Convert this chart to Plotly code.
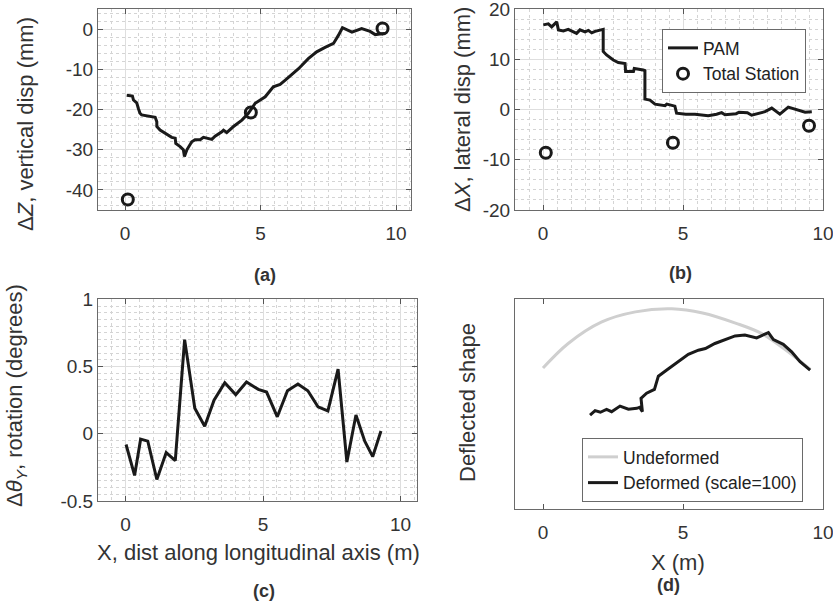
import plotly.graph_objects as go

# ---------------- data ----------------
# (a) vertical displacement, PAM
x_a = [0.06, 0.27, 0.31, 0.43, 0.49, 0.55, 0.61, 0.86, 1.11, 1.17, 1.17, 1.29, 1.48, 1.72, 1.85, 1.87,
       2.03, 2.15, 2.19, 2.28, 2.46, 2.58, 2.77, 2.89, 3.20, 3.32, 3.57, 3.63, 3.75, 4.00, 4.31, 4.55,
       4.80, 5.17, 5.47, 5.72, 5.90, 6.40, 6.76, 7.07, 7.38, 7.69, 7.87, 8.02, 8.37, 8.73, 9.04, 9.23, 9.59]
z_a = [-16.4, -16.6, -17.6, -18.3, -19.7, -20.9, -21.3, -21.6, -21.9, -23.0, -24.2, -25.1, -25.9, -26.9,
       -27.1, -28.4, -29.2, -30.0, -31.7, -30.0, -28.0, -27.5, -27.5, -26.9, -27.4, -26.6, -25.5, -25.1,
       -25.7, -24.2, -22.6, -20.9, -18.4, -16.8, -14.3, -13.7, -12.7, -9.8, -7.3, -5.6, -4.5, -3.5, -1.5,
       0.4, -0.7, 0.2, -0.5, -1.3, -1.0]

# Total station
x_ts = [0.10, 4.64, 9.50]
z_ts = [-42.4, -20.7, 0.2]
dx_ts = [-8.6, -6.6, -3.2]

# (b) lateral displacement, PAM
x_b = [0.01, 0.19, 0.31, 0.40, 0.49, 0.55, 0.73, 0.90, 1.05, 1.20, 1.32, 1.50, 1.62, 1.74, 1.86, 2.10,
       2.15, 2.15, 2.27, 2.51, 2.69, 2.93, 2.95, 3.23, 3.26, 3.58, 3.64, 3.64, 3.82, 4.00, 4.36, 4.42,
       4.71, 4.77, 5.10, 5.43, 5.90, 6.20, 6.38, 6.50, 6.90, 7.00, 7.30, 7.45, 7.93, 8.17, 8.46, 8.76,
       9.05, 9.36, 9.60]
dx_b = [16.9, 17.1, 16.5, 17.1, 17.5, 15.9, 15.7, 16.0, 15.6, 15.2, 15.9, 15.5, 15.8, 15.3, 15.6, 16.0,
        16.0, 11.6, 10.9, 9.9, 9.4, 9.2, 7.6, 7.6, 8.2, 7.9, 7.8, 2.1, 1.9, 1.1, 0.8, 1.1,
        0.7, -0.7, -0.9, -0.9, -1.2, -0.9, -0.6, -1.0, -0.8, -0.5, -0.6, -1.1, -0.4, 0.3, -0.9, 0.5,
        0.0, -0.5, -0.4]

# (c) rotation
x_c = [0.02, 0.33, 0.55, 0.81, 1.14, 1.48, 1.81, 2.15, 2.52, 2.88, 3.22, 3.61, 4.01, 4.40,
       4.83, 5.13, 5.52, 5.89, 6.27, 6.63, 7.00, 7.36, 7.73, 8.05, 8.38, 8.70, 8.99, 9.29]
rot_c = [-0.08, -0.31, -0.04, -0.055, -0.34, -0.14, -0.20, 0.70, 0.19, 0.056, 0.25, 0.38, 0.29, 0.385,
         0.33, 0.31, 0.126, 0.32, 0.37, 0.32, 0.20, 0.17, 0.48, -0.21, 0.14, -0.055, -0.17, 0.02]

# (d) deflected shape
x_und = [0.0, 0.9, 2.1, 3.3, 4.6, 5.7, 6.9, 7.8, 8.6, 9.55]
y_und = [0.0, 0.88, 1.65, 2.01, 2.12, 1.97, 1.60, 1.24, 0.70, -0.05]
x_def = [1.68, 1.86, 2.05, 2.27, 2.45, 2.75, 3.05, 3.35, 3.45, 3.55, 3.50, 3.70, 3.98, 4.12, 4.42,
         4.83, 5.19, 5.55, 5.80, 6.14, 6.50, 6.86, 7.21, 7.63, 8.05, 8.23, 8.58, 8.88, 9.18, 9.54]
y_def = [-1.68, -1.52, -1.58, -1.48, -1.56, -1.36, -1.47, -1.44, -1.40, -1.56, -1.08, -0.90, -0.76,
         -0.29, -0.07, 0.23, 0.49, 0.64, 0.70, 0.88, 1.02, 1.15, 1.18, 1.08, 1.27, 1.02, 0.85, 0.58,
         0.23, -0.07]

x_ticks = [0, 5, 10]
ya_ticks = [-40, -30, -20, -10, 0]
yb_ticks = [-20, -10, 0, 10, 20]
yc_ticks = [-0.5, 0, 0.5, 1]

# ---------------- layout helpers ----------------
W, H = 833, 605
FONT = "Liberation Sans, Arial, Helvetica, sans-serif"


def dx(a, b):
    return [a / W, b / W]


def dy(top, bot):
    return [1 - bot / H, 1 - top / H]


def lab(v):
    return "%g" % v


BLACK = "#1a1a1a"
LW = 3

fig = go.Figure()

# (a)
fig.add_trace(go.Scatter(x=x_a, y=z_a, mode="lines", line=dict(color=BLACK, width=LW),
                         xaxis="x", yaxis="y", showlegend=False))
fig.add_trace(go.Scatter(x=x_ts, y=z_ts, mode="markers",
                         marker=dict(symbol="circle-open", size=11, color=BLACK, line=dict(width=3)),
                         xaxis="x", yaxis="y", showlegend=False))
# (b)
fig.add_trace(go.Scatter(x=x_b, y=dx_b, mode="lines", line=dict(color=BLACK, width=LW), name="PAM",
                         xaxis="x2", yaxis="y2", legend="legend"))
fig.add_trace(go.Scatter(x=x_ts, y=dx_ts, mode="markers", name="Total Station",
                         marker=dict(symbol="circle-open", size=11, color=BLACK, line=dict(width=3)),
                         xaxis="x2", yaxis="y2", legend="legend"))
# (c)
fig.add_trace(go.Scatter(x=x_c, y=rot_c, mode="lines", line=dict(color=BLACK, width=LW),
                         xaxis="x3", yaxis="y3", showlegend=False))
# (d)
fig.add_trace(go.Scatter(x=x_und, y=y_und, mode="lines", name="Undeformed",
                         line=dict(color="#cfcfcf", width=LW, shape="spline", smoothing=1.0),
                         xaxis="x4", yaxis="y4", legend="legend2"))
fig.add_trace(go.Scatter(x=x_def, y=y_def, mode="lines", name="Deformed (scale=100)",
                         line=dict(color=BLACK, width=LW),
                         xaxis="x4", yaxis="y4", legend="legend2"))

tickfont = dict(family=FONT, size=19, color="#333333")


def xaxis(domain, rng, anchor, grid=True):
    d = dict(domain=domain, range=rng, anchor=anchor, tickvals=x_ticks,
             ticktext=[lab(v) for v in x_ticks], tickfont=tickfont, ticklabeloverflow="allow",
             ticklabelstandoff=6,
             ticks="inside", ticklen=5, tickcolor="#555", tickwidth=1,
             showline=True, linecolor="#6a6a6a", linewidth=1, mirror="ticks",
             zeroline=False, showgrid=grid, gridcolor="#dedede", gridwidth=1)
    if grid:
        d["minor"] = dict(dtick=0.5, showgrid=True, gridcolor="#d4d4d4", griddash="dot", gridwidth=1)
    return d


def yaxis(domain, rng, anchor, ticks, minor):
    return dict(domain=domain, range=rng, anchor=anchor, tickvals=ticks,
                ticktext=[lab(v) for v in ticks], tickfont=tickfont, ticklabeloverflow="allow",
                ticks="inside", ticklen=5, tickcolor="#555", tickwidth=1,
                showline=True, linecolor="#6a6a6a", linewidth=1, mirror="ticks",
                zeroline=False, showgrid=True, gridcolor="#dedede", gridwidth=1,
                minor=dict(dtick=minor, showgrid=True, gridcolor="#d4d4d4", griddash="dot", gridwidth=1))


fig.update_layout(
    width=W, height=H, margin=dict(l=0, r=0, t=0, b=0, pad=0, autoexpand=False),
    paper_bgcolor="white", plot_bgcolor="white",
    font=dict(family=FONT, color="#333333"),
    xaxis=xaxis(dx(98, 411), [-1, 10.55], "y"),
    yaxis=yaxis(dy(9.3, 210), [-45, 5], "x", ya_ticks, 2),
    xaxis2=xaxis(dx(515, 823), [-1, 10], "y2"),
    yaxis2=yaxis(dy(9.3, 210), [-20, 20], "x2", yb_ticks, 2),
    xaxis3=xaxis(dx(98, 417), [-1, 10.6], "y3"),
    yaxis3=yaxis(dy(299.3, 501), [-0.5, 1], "x3", yc_ticks, 0.05),
    xaxis4=xaxis(dx(515, 823), [-1, 10], "y4", grid=False),
    yaxis4=dict(domain=dy(299.3, 509), range=[-5.04, 2.46], anchor="x4", showticklabels=False,
                ticks="", showline=True, linecolor="#6a6a6a", linewidth=1, mirror=True,
                showgrid=False, zeroline=False),
    legend=dict(x=662 / W, y=1 - 29 / H, xanchor="left", yanchor="top",
                bgcolor="white", bordercolor="#6a6a6a", borderwidth=1,
                font=dict(family=FONT, size=17.5, color="#222"), tracegroupgap=0),
    legend2=dict(x=582 / W, y=1 - 438 / H, xanchor="left", yanchor="top",
                 bgcolor="white", bordercolor="#6a6a6a", borderwidth=1,
                 font=dict(family=FONT, size=17.5, color="#222"), tracegroupgap=0),
)

ann = []


def text(x, y, s, size=22, angle=0, bold=False):
    ann.append(dict(x=x / W, y=1 - y / H, xref="paper", yref="paper", text=("<b>%s</b>" % s) if bold else s,
                    showarrow=False, textangle=angle, xanchor="center", yanchor="middle",
                    font=dict(family=FONT, size=size, color="#333333")))


text(25, 124, "Δ<i>Z</i>, vertical disp (mm)", angle=-90)
text(462, 110, "Δ<i>X</i>, lateral disp (mm)", angle=-90)
text(16, 396, "Δ<i>θ</i><sub><i>Y</i></sub>, rotation (degrees)", angle=-90)
text(467, 403, "Deflected shape", angle=-90)
text(258, 552, "X, dist along longitudinal axis (m)")
text(678, 562, "X (m)")
text(265, 275, "(a)", size=18, bold=True)
text(680, 273, "(b)", size=18, bold=True)
text(264, 591, "(c)", size=18, bold=True)
text(668, 585, "(d)", size=18, bold=True)
fig.update_layout(annotations=ann)

fig.write_html("out.html", config={"displayModeBar": False},
               post_script="document.body.style.margin='0';document.body.style.overflow='hidden';")
